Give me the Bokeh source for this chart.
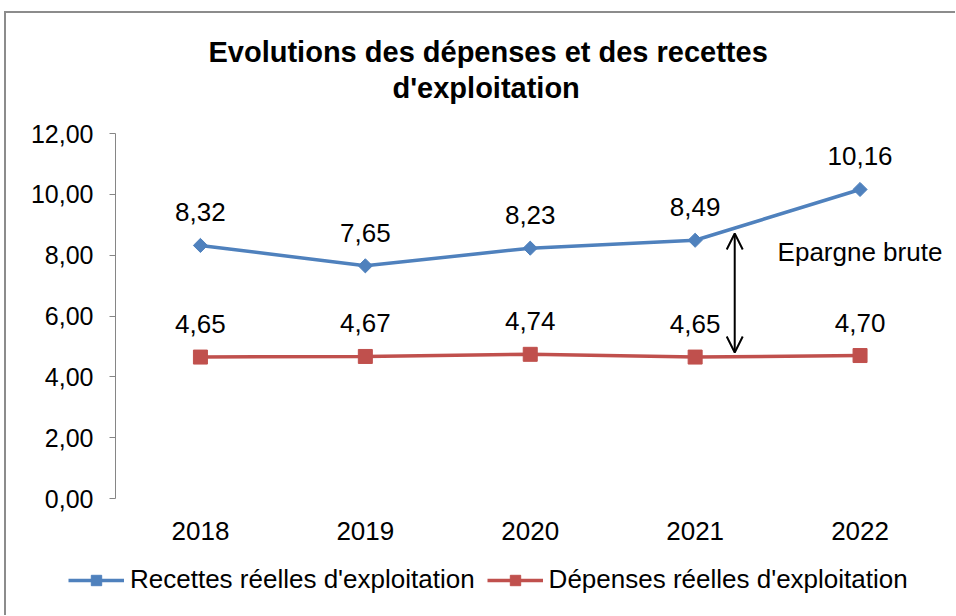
from bokeh.plotting import figure
from bokeh.layouts import column
from bokeh.models import (Range1d, FixedTicker, CustomJSTickFormatter, Title, Legend,
                          LegendItem, Arrow, OpenHead, Label)
from bokeh.core.properties import value
from bokeh.embed import file_html
from bokeh.resources import INLINE

# ---- data ----
years = ["2018", "2019", "2020", "2021", "2022"]
recettes = [8.32, 7.65, 8.23, 8.49, 10.16]
depenses = [4.65, 4.67, 4.74, 4.65, 4.70]
y_ticks = [0, 2, 4, 6, 8, 10, 12]
title_lines = ["Evolutions des dépenses et des recettes", "d'exploitation"]
series_names = ["Recettes réelles d'exploitation", "Dépenses réelles d'exploitation"]
annotation_text = "Epargne brute"

FONT = "Liberation Sans"
BLUE = "#4F81BD"
RED = "#C0504D"
AXIS_GRAY = "#868686"

xs = list(range(len(years)))
series = (recettes, depenses)


def fmt(v):
    return f"{v:.2f}".replace(".", ",")


W = 949
p = figure(width=W, height=547, output_backend="svg", toolbar_location=None,
           x_range=Range1d(-0.515, len(years) - 0.5), y_range=Range1d(0, 12),
           min_border_left=109, min_border_right=13, min_border_top=120,
           min_border_bottom=62, background_fill_color="white",
           border_fill_color="white")
p.frame_align = False
p.outline_line_color = None
p.xgrid.grid_line_color = None
p.ygrid.grid_line_color = None

# titles: p.title is outermost; spacer closest to the frame, then line 2
p.title.text = title_lines[0]
p.title.align = "left"
p.title.offset = 93
p.title.standoff = 2
p.title.text_font = FONT
p.title.text_font_size = "29px"
p.title.text_font_style = "bold"
p.title.text_color = "black"
spacer = Title(text=" ", text_font_size="10px", standoff=16)
p.add_layout(spacer, "above")
t2 = Title(text=title_lines[1], align="left", offset=277, standoff=2, text_font=FONT,
           text_font_size="29px", text_font_style="bold", text_color="black")
p.add_layout(t2, "above")

# axes
ya = p.yaxis[0]
ya.ticker = FixedTicker(ticks=y_ticks)
ya.formatter = CustomJSTickFormatter(code="return tick.toFixed(2).replace('.', ',');")
ya.axis_line_color = AXIS_GRAY
ya.major_tick_line_color = AXIS_GRAY
ya.major_tick_out = 6
ya.major_tick_in = 0
ya.minor_tick_line_color = None
ya.major_label_text_font = FONT
ya.major_label_text_font_size = "25px"
ya.major_label_text_color = "black"
ya.major_label_standoff = 16

xa = p.xaxis[0]
xa.ticker = FixedTicker(ticks=xs)
xa.major_label_overrides = {i: y for i, y in enumerate(years)}
xa.axis_line_color = None
xa.major_tick_line_color = None
xa.minor_tick_line_color = None
xa.major_label_text_font = FONT
xa.major_label_text_font_size = "26px"
xa.major_label_text_color = "black"
xa.major_label_standoff = 17

# series
line_kw = [dict(line_color=BLUE, line_width=3.5), dict(line_color=RED, line_width=3.5)]
mark_kw = [dict(marker="square", angle=0.785398, size=10, fill_color=BLUE, line_color=BLUE),
           dict(marker="square", size=14, fill_color=RED, line_color=RED)]
for vals, lk, mk in zip(series, line_kw, mark_kw):
    p.line(xs, vals, **lk)
    p.scatter(xs, vals, **mk)
    p.text(xs, vals, text=[fmt(v) for v in vals], text_align="center",
           text_baseline="middle", y_offset=-33, text_font=value(FONT),
           text_font_size="26px", text_color="black")

# annotation arrow (gross savings)
arrow_x = 3.24
p.add_layout(Arrow(start=OpenHead(size=16, line_width=2, line_color="black"),
                   end=OpenHead(size=16, line_width=2, line_color="black"),
                   x_start=arrow_x, y_start=4.80, x_end=arrow_x, y_end=8.71,
                   line_width=2, line_color="black"))
p.add_layout(Label(x=3.50, y=8.12, text=annotation_text, text_font=FONT,
                   text_font_size="26px", text_baseline="middle", text_color="black"))

# legend strip: a second figure whose ranges keep the series out of view,
# so only the legend (built from the same series styles) is visible
pl = figure(width=W, height=55, output_backend="svg", toolbar_location=None,
            x_range=Range1d(100, 101), y_range=Range1d(100, 101),
            x_axis_location=None, y_axis_location=None,
            min_border=0, min_border_left=0, min_border_right=0,
            min_border_top=0, min_border_bottom=0,
            background_fill_color="white", border_fill_color="white")
pl.frame_align = False
pl.outline_line_color = None
pl.grid.visible = False
items = []
for name, vals, lk, mk in zip(series_names, series, line_kw, mark_kw):
    rl = pl.line(xs, vals, **lk)
    rs = pl.scatter(xs, vals, **mk)
    items.append(LegendItem(label=name, renderers=[rl, rs]))
legend = Legend(items=items, orientation="horizontal", location=(62, 20),
                glyph_width=56, glyph_height=26, label_height=26, label_standoff=6,
                spacing=12, padding=0, margin=0, border_line_color=None,
                background_fill_alpha=0, label_text_font=FONT,
                label_text_font_size="26px", label_text_color="black")
pl.add_layout(legend)

layout = column(p, pl, spacing=0)
layout.styles = {"border-top": "2px solid #8c8c8c", "border-left": "2px solid #8c8c8c",
                 "margin-left": "4px", "margin-top": "11px"}

open("out.html", "w").write(file_html(layout, INLINE))
